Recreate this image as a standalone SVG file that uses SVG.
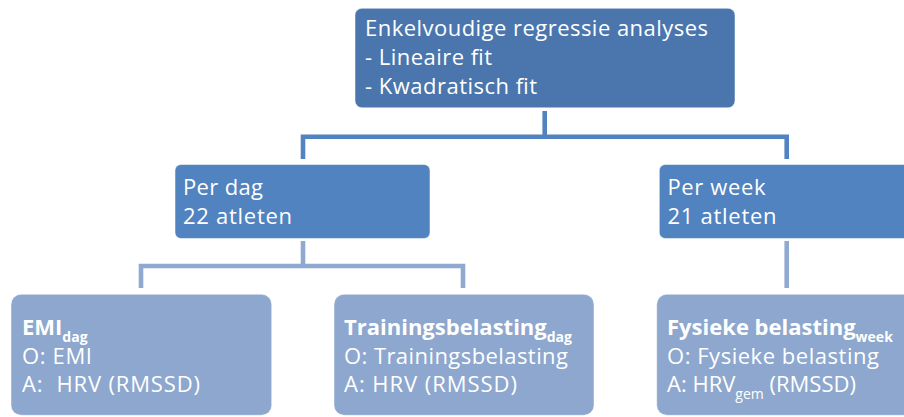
<svg xmlns="http://www.w3.org/2000/svg" width="904" height="417" viewBox="0 0 904 417">
  <style>
    .t { font-family: "Open Sans", "Noto Sans", sans-serif; font-size: 22px; fill: #ffffff; }
    .b { font-weight: bold; }
    .sub { font-size: 14px; }
    .lvl1 { fill: #4A76AD; stroke: #ffffff; stroke-opacity: 0.5; stroke-width: 1; }
    .lvl2 { fill: #5183C0; stroke: #ffffff; stroke-opacity: 0.5; stroke-width: 1; }
    .lvl3 { fill: #8DA7CE; stroke: #ffffff; stroke-opacity: 0.5; stroke-width: 1; }
    .c1 { fill: none; stroke: #5183C0; stroke-width: 4.6; stroke-linejoin: miter; stroke-linecap: butt; }
    .c2 { fill: none; stroke: #8FA9D0; stroke-width: 4.6; stroke-linejoin: miter; stroke-linecap: butt; }
  </style>
  <rect width="904" height="417" fill="#ffffff"/>

  <g id="connectors">
    <path class="c1" d="M544.7 111 V136.7"/>
    <path class="c1" d="M303 159 V136.7 H786.7 V159"/>
    <path class="c2" d="M303 241 V266"/>
    <path class="c2" d="M141 288 V266 H463 V288"/>
    <path class="c2" d="M786.7 241 V288"/>
  </g>

  <g id="node-root">
    <rect class="lvl1" x="355" y="8.3" width="380" height="99.5" rx="7"/>
    <text class="t" x="365" y="35.5" textLength="343" lengthAdjust="spacing">Enkelvoudige regressie analyses</text>
    <text class="t" x="365" y="65" textLength="127" lengthAdjust="spacing">- Lineaire fit</text>
    <text class="t" x="365" y="94" textLength="172" lengthAdjust="spacing">- Kwadratisch fit</text>
  </g>

  <g id="node-per-dag">
    <rect class="lvl2" x="175" y="164.5" width="255" height="74" rx="6"/>
    <text class="t" x="183" y="195" textLength="80" lengthAdjust="spacing">Per dag</text>
    <text class="t" x="183" y="224" textLength="109" lengthAdjust="spacing">22 atleten</text>
  </g>

  <g id="node-per-week">
    <rect class="lvl2" x="659.3" y="164.5" width="260" height="74" rx="6"/>
    <text class="t" x="667.5" y="194.5" textLength="98" lengthAdjust="spacing">Per week</text>
    <text class="t" x="667.5" y="223.5" textLength="109" lengthAdjust="spacing">21 atleten</text>
  </g>

  <g id="node-emi">
    <rect class="lvl3" x="11" y="294.3" width="260.7" height="121" rx="10"/>
    <text class="t" x="22" y="335"><tspan class="b">EMI</tspan><tspan class="sub b" dy="6.5">dag</tspan></text>
    <text class="t" x="22" y="364" textLength="70" lengthAdjust="spacing">O: EMI</text>
    <text class="t" x="22" y="392" textLength="178" lengthAdjust="spacing" xml:space="preserve">A:  HRV (RMSSD)</text>
  </g>

  <g id="node-trainingsbelasting">
    <rect class="lvl3" x="334" y="294.3" width="260" height="121" rx="10"/>
    <text class="t" x="344" y="335"><tspan class="b">Trainingsbelasting</tspan><tspan class="sub b" dy="6.5">dag</tspan></text>
    <text class="t" x="344" y="364" textLength="224" lengthAdjust="spacing">O: Trainingsbelasting</text>
    <text class="t" x="344" y="392" textLength="173" lengthAdjust="spacing">A: HRV (RMSSD)</text>
  </g>

  <g id="node-fysieke-belasting">
    <rect class="lvl3" x="656.7" y="294.3" width="265" height="121" rx="10"/>
    <text class="t" x="667" y="335"><tspan class="b">Fysieke belasting</tspan><tspan class="sub b" dy="6.5">week</tspan></text>
    <text class="t" x="667" y="364" textLength="212" lengthAdjust="spacing">O: Fysieke belasting</text>
    <text class="t" x="667" y="392">A: HRV<tspan class="sub" dy="6.5">gem</tspan><tspan dy="-6.5"> (RMSSD)</tspan></text>
  </g>
</svg>
